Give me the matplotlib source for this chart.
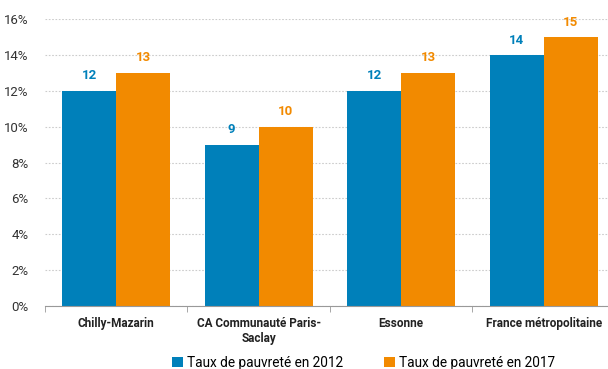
import numpy as np
import matplotlib
matplotlib.use("Agg")
import matplotlib.pyplot as plt
from matplotlib.ticker import FuncFormatter

categories = ["Chilly-Mazarin", "CA Communauté Paris-\nSaclay", "Essonne", "France métropolitaine"]
taux_2012 = [12, 9, 12, 14]
taux_2017 = [13, 10, 13, 15]
series_names = ["Taux de pauvreté en 2012", "Taux de pauvreté en 2017"]
yticks = [0, 2, 4, 6, 8, 10, 12, 14, 16]

bleu = "#0080BA"
orange = "#F28A00"

plt.rcParams["font.family"] = ["Roboto", "DejaVu Sans"]

W, H = 608, 369
fig = plt.figure(figsize=(W / 100, H / 100), dpi=100)
ax = fig.add_axes([45 / W, 63 / H, 570 / W, 287 / H])

x = np.arange(len(categories))
w = 0.38
b1 = ax.bar(x - w / 2, taux_2012, w, color=bleu, label=series_names[0])
b2 = ax.bar(x + w / 2, taux_2017, w, color=orange, label=series_names[1])

# valeurs au-dessus des barres
for bars, vals, c in [(b1, taux_2012, bleu), (b2, taux_2017, orange)]:
    for r, v in zip(bars, vals):
        ax.annotate(str(v), (r.get_x() + r.get_width() / 2, v), xytext=(0, 6),
                    textcoords="offset points", ha="center", va="bottom",
                    color=c, fontsize=9.5, fontweight="bold")

ax.set_xlim(-0.5, len(categories) - 0.5)
ax.set_ylim(0, 16)
ax.set_yticks(yticks)
ax.yaxis.set_major_formatter(FuncFormatter(lambda v, p: f"{v:.0f}%"))
ax.set_xticks(x)
ax.set_xticklabels(categories, fontsize=8.5, fontweight="bold", color="#222222")
ax.set_xticks(np.arange(len(categories) + 1) - 0.5, minor=True)
ax.tick_params(axis="x", which="major", length=0, pad=8)
ax.tick_params(axis="x", which="minor", length=4, color="#999999")
ax.tick_params(axis="y", length=0, labelsize=9.5, labelcolor="#333333", pad=12)

ax.grid(axis="y", color="#cccccc", linestyle=(0, (1.5, 1.5)), linewidth=0.8)
ax.set_axisbelow(True)
for s in ["top", "right", "left"]:
    ax.spines[s].set_visible(False)
ax.spines["bottom"].set_color("#999999")

fig.legend(handles=[b1, b2], loc="lower center", bbox_to_anchor=(0.598, -0.035),
           ncol=2, frameon=False, fontsize=9.8, handlelength=0.8, handleheight=0.8,
           handletextpad=0.3, columnspacing=3.0)

fig.savefig("out.png", dpi=100)
